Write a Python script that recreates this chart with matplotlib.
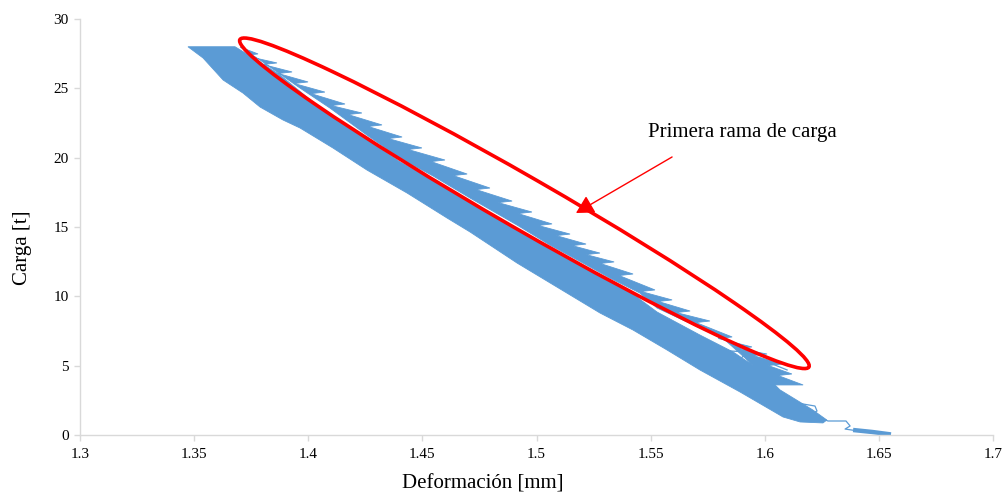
import matplotlib
matplotlib.use("Agg")
import matplotlib.pyplot as plt
import matplotlib.transforms as mtransforms
from matplotlib.patches import Ellipse

plt.rcParams["font.family"] = ["Liberation Serif", "DejaVu Serif"]

BLUE = "#5B9BD5"
RED = "#FF0000"
GRID_GREY = "#D9D9D9"

# ---- Load (t) versus deformation (mm): outline of the cyclic band ----
# main band, lower-left edge (top to bottom)
band_left_x = [1.3473, 1.3539, 1.3627, 1.3714, 1.3789, 1.3889, 1.3964, 1.4108,
               1.4257, 1.4433, 1.4608, 1.4709, 1.4915, 1.5147, 1.5278, 1.5423,
               1.5572, 1.5716, 1.5892, 1.6080, 1.6155, 1.6255]
band_left_y = [28.00, 27.19, 25.60, 24.66, 23.65, 22.72, 22.14, 20.70,
               19.11, 17.45, 15.65, 14.64, 12.40, 10.10, 8.80, 7.57,
               6.13, 4.69, 3.10, 1.30, 0.94, 0.87]
# main band, upper-right edge (bottom to top)
band_right_x = [1.6272, 1.6211, 1.6067, 1.5979, 1.5861, 1.5716, 1.5528, 1.5410,
                1.5322, 1.5204, 1.5059, 1.4915, 1.4709, 1.4665, 1.4547, 1.4402,
                1.4257, 1.4073, 1.4021, 1.3876, 1.3789, 1.3679]
band_right_y = [1.08, 1.80, 3.25, 4.69, 5.99, 7.21, 8.87, 10.31,
                11.03, 12.11, 13.41, 14.86, 16.80, 17.31, 18.39, 19.69,
                21.35, 23.29, 24.01, 25.96, 26.90, 28.00]

# first loading branch, serrated outer edge (top to bottom): tip, notch, tip, ...
branch_outer_x = [1.3701, 1.3780, 1.3719, 1.3863, 1.3802, 1.3929, 1.3868, 1.3999,
                  1.3938, 1.4073, 1.4012, 1.4161, 1.4100, 1.4235, 1.4174, 1.4323,
                  1.4262, 1.4411, 1.4350, 1.4498, 1.4437, 1.4599, 1.4538, 1.4696,
                  1.4635, 1.4796, 1.4735, 1.4893, 1.4832, 1.4980, 1.4919, 1.5068,
                  1.5007, 1.5147, 1.5086, 1.5217, 1.5156, 1.5278, 1.5217, 1.5340,
                  1.5279, 1.5423, 1.5362, 1.5519, 1.5458, 1.5594, 1.5533, 1.5673,
                  1.5612, 1.5760, 1.5699, 1.5857, 1.5796, 1.5944, 1.5883, 1.6010,
                  1.5949, 1.6076, 1.6015, 1.6119, 1.6058, 1.6168]
branch_outer_y = [27.98, 27.48, 27.37, 26.83, 26.72, 26.18, 26.07, 25.46,
                  25.35, 24.73, 24.62, 23.87, 23.76, 23.22, 23.11, 22.36,
                  22.25, 21.49, 21.38, 20.70, 20.59, 19.83, 19.72, 18.82,
                  18.71, 17.81, 17.70, 16.87, 16.76, 16.08, 15.97, 15.22,
                  15.11, 14.49, 14.38, 13.77, 13.66, 13.12, 13.01, 12.48,
                  12.37, 11.61, 11.50, 10.46, 10.35, 9.74, 9.63, 8.94,
                  8.83, 8.22, 8.11, 7.07, 6.96, 6.35, 6.24, 5.84,
                  5.73, 5.12, 5.01, 4.40, 4.29, 3.61]
# first loading branch, inner edge (bottom to top)
branch_inner_x = [1.6036, 1.5979, 1.5914, 1.5826, 1.5716, 1.5528, 1.5453, 1.5322,
                  1.5204, 1.5059, 1.4915, 1.4709, 1.4547, 1.4402, 1.4257, 1.4095,
                  1.3964, 1.3789]
branch_inner_y = [3.61, 4.54, 5.55, 6.85, 7.72, 9.16, 10.24, 11.32,
                  12.40, 13.70, 15.14, 17.09, 18.68, 19.98, 21.63, 23.58,
                  25.02, 27.04]

# single unloading traces near the end of the test
trace_a_x = [1.5773, 1.5922, 1.5878, 1.6023, 1.6098]
trace_a_y = [6.13, 5.99, 5.19, 5.19, 4.69]
trace_b_x = [1.6141, 1.6220, 1.6229, 1.6203, 1.6277, 1.6356, 1.6374, 1.6352, 1.6409]
trace_b_y = [2.31, 2.09, 1.73, 1.51, 1.01, 1.01, 0.65, 0.43, 0.29]
tail_x = [1.6387, 1.6470, 1.6553]
tail_y = [0.36, 0.22, 0.04]

# annotation
ellipse_center = (1.4947, 16.71)
arrow_tail = (1.5594, 20.05)
arrow_tip = (1.5173, 16.01)
note_pos = (1.5489, 21.78)
note_text = "Primera rama de carga"

x_ticks = [1.3, 1.35, 1.4, 1.45, 1.5, 1.55, 1.6, 1.65, 1.7]
x_tick_labels = ["1.3", "1.35", "1.4", "1.45", "1.5", "1.55", "1.6", "1.65", "1.7"]
y_ticks = [0, 5, 10, 15, 20, 25, 30]

fig = plt.figure(figsize=(10.05, 4.94), dpi=100)
ax = fig.add_axes([80 / 1005, 59 / 494, 913 / 1005, 416 / 494])

ax.fill(band_left_x + band_right_x, band_left_y + band_right_y,
        color=BLUE, lw=0.6, ec=BLUE, zorder=2)
ax.fill(branch_outer_x + branch_inner_x, branch_outer_y + branch_inner_y,
        color=BLUE, lw=0.6, ec=BLUE, zorder=2)
ax.plot(trace_a_x, trace_a_y, color=BLUE, lw=0.9, zorder=2)
ax.plot(trace_b_x, trace_b_y, color=BLUE, lw=0.9, zorder=2)
ax.plot(tail_x, tail_y, color=BLUE, lw=3.2, solid_capstyle="butt", zorder=2)

ax.set_xlim(1.3, 1.7)
ax.set_ylim(0, 30)
ax.set_xticks(x_ticks)
ax.set_xticklabels(x_tick_labels)
ax.set_yticks(y_ticks)

for side in ("top", "right"):
    ax.spines[side].set_visible(False)
for side in ("left", "bottom"):
    ax.spines[side].set_color(GRID_GREY)
    ax.spines[side].set_linewidth(1.0)
ax.tick_params(axis="both", direction="out", length=4, width=1.0,
               color=GRID_GREY, labelsize=11, labelcolor="#000000")
ax.tick_params(axis="x", pad=5)
ax.tick_params(axis="y", pad=4)

ax.set_xlabel("Deformación [mm]", fontsize=15)
ax.xaxis.set_label_coords((483 - 80) / 913, -(484 - 435) / 416)
ax.xaxis.label.set_va("center")
ax.set_ylabel("Carga [t]", fontsize=15)
ax.yaxis.set_label_coords((22 - 80) / 913, (435 - 248) / 416)
ax.yaxis.label.set_va("center")

# ellipse drawn in inches around a data-space centre
ell_trans = fig.dpi_scale_trans + mtransforms.ScaledTranslation(
    ellipse_center[0], ellipse_center[1], ax.transData)
ax.add_patch(Ellipse((0, 0), width=6.565, height=0.52, angle=-29.92,
                     fill=False, ec=RED, lw=2.6, transform=ell_trans,
                     zorder=4, clip_on=False))

ax.annotate("", xy=arrow_tip, xytext=arrow_tail,
            arrowprops=dict(arrowstyle="-|>,head_length=0.4,head_width=0.22",
                            color=RED, lw=1.0, mutation_scale=27,
                            shrinkA=0, shrinkB=0),
            zorder=5)
ax.text(note_pos[0], note_pos[1], note_text, fontsize=15,
        ha="left", va="center", color="#000000")

fig.savefig("out.png", dpi=100, facecolor="white")
